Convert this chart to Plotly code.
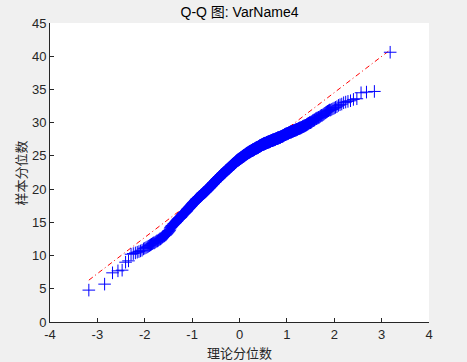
import numpy as np
import plotly.graph_objects as go
from statistics import NormalDist

# Sorted sample values of VarName4 (n = 680)
sample_low = [
    4.8, 5.7, 7.4, 7.7, 7.8, 9.0, 9.2, 10.2, 10.3,
    10.4, 10.5, 10.6, 10.7, 10.8, 11.0,
    11.1, 11.2, 11.3, 11.4, 11.5,
    11.6, 11.7, 11.8, 11.9,
    11.9, 12.0, 12.1, 12.2, 12.2, 12.3,
    12.4, 12.5, 12.5, 12.6, 12.7, 12.8, 12.9,
    12.9, 13.0, 13.1, 13.1, 13.2, 13.3, 13.4, 13.5,
    13.6, 13.7, 13.8, 14.0, 14.2, 14.3, 14.4, 14.5, 14.5, 14.6,
    14.7, 14.8, 14.8, 14.9, 15.0, 15.0, 15.1, 15.2, 15.2, 15.3, 15.4,
    15.5, 15.5, 15.6, 15.6, 15.7, 15.7, 15.8, 15.8, 15.9, 16.0, 16.0, 16.1,
    16.2, 16.2, 16.3, 16.3, 16.4, 16.4, 16.5, 16.5, 16.6, 16.6, 16.7, 16.7, 16.8, 16.9,
    16.9, 17.0, 17.0, 17.1, 17.1, 17.2, 17.2, 17.3, 17.3, 17.4, 17.4, 17.5, 17.5, 17.6, 17.6, 17.7,
    17.7, 17.8, 17.8, 17.9, 17.9, 18.0, 18.0, 18.0, 18.1, 18.1, 18.2, 18.2, 18.3, 18.3, 18.4, 18.4, 18.5,
    18.5, 18.5, 18.6, 18.6, 18.6, 18.7, 18.7, 18.7, 18.8, 18.8, 18.8, 18.9, 18.9, 18.9, 19.0, 19.0, 19.0, 19.1, 19.1,
    19.1, 19.2, 19.2, 19.2, 19.3, 19.3, 19.3, 19.4, 19.4, 19.4, 19.5, 19.5, 19.5, 19.5, 19.6, 19.6, 19.6, 19.7, 19.7, 19.7, 19.8,
    19.8, 19.8, 19.9, 19.9, 19.9, 20.0, 20.0, 20.0, 20.1, 20.1, 20.1, 20.2, 20.2, 20.2, 20.3, 20.3, 20.3, 20.4, 20.4, 20.4, 20.5, 20.5,
    20.5, 20.6, 20.6, 20.6, 20.7, 20.7, 20.7, 20.8, 20.8, 20.8, 20.9, 20.9, 20.9, 21.0, 21.0, 21.0, 21.0, 21.1, 21.1, 21.1, 21.2, 21.2, 21.2,
    21.3, 21.3, 21.3, 21.4, 21.4, 21.4, 21.5, 21.5, 21.5, 21.5, 21.6, 21.6, 21.6, 21.7, 21.7, 21.7, 21.7, 21.8, 21.8, 21.8, 21.9, 21.9, 21.9, 21.9,
    22.0, 22.0, 22.0, 22.1, 22.1, 22.1, 22.1, 22.2, 22.2, 22.2, 22.2, 22.3, 22.3, 22.3, 22.3, 22.4, 22.4, 22.4, 22.4, 22.5, 22.5, 22.5, 22.5, 22.6, 22.6, 22.6,
    22.7, 22.7, 22.7, 22.7, 22.8, 22.8, 22.8, 22.8, 22.9, 22.9, 22.9, 22.9, 23.0, 23.0, 23.0, 23.0, 23.1, 23.1, 23.1, 23.1, 23.2, 23.2, 23.2, 23.2, 23.3, 23.3,
    23.3, 23.3, 23.4, 23.4, 23.4, 23.4, 23.5, 23.5, 23.5, 23.5, 23.6, 23.6, 23.6, 23.6, 23.7, 23.7, 23.7, 23.7, 23.8, 23.8, 23.8, 23.8, 23.8, 23.9, 23.9, 23.9, 23.9,
    24.0, 24.0, 24.0, 24.0, 24.1, 24.1, 24.1, 24.1, 24.2, 24.2, 24.2, 24.2, 24.3, 24.3, 24.3, 24.3, 24.3, 24.4, 24.4, 24.4, 24.4, 24.4, 24.5, 24.5, 24.5, 24.5, 24.5,
]
sample_high = [
    24.5, 24.6, 24.6, 24.6, 24.6, 24.6, 24.7, 24.7, 24.7, 24.7, 24.7, 24.8, 24.8, 24.8, 24.8, 24.8, 24.9, 24.9, 24.9, 24.9, 24.9, 25.0, 25.0, 25.0, 25.0, 25.0, 25.0,
    25.1, 25.1, 25.1, 25.1, 25.1, 25.2, 25.2, 25.2, 25.2, 25.2, 25.3, 25.3, 25.3, 25.3, 25.3, 25.4, 25.4, 25.4, 25.4, 25.4, 25.4, 25.5, 25.5, 25.5, 25.5, 25.5, 25.5,
    25.6, 25.6, 25.6, 25.6, 25.6, 25.6, 25.7, 25.7, 25.7, 25.7, 25.7, 25.7, 25.8, 25.8, 25.8, 25.8, 25.8, 25.8, 25.8, 25.9, 25.9, 25.9, 25.9, 25.9, 25.9, 25.9,
    26.0, 26.0, 26.0, 26.0, 26.0, 26.0, 26.1, 26.1, 26.1, 26.1, 26.1, 26.1, 26.2, 26.2, 26.2, 26.2, 26.2, 26.2, 26.2, 26.3, 26.3, 26.3, 26.3, 26.3, 26.3, 26.3,
    26.4, 26.4, 26.4, 26.4, 26.4, 26.5, 26.5, 26.5, 26.5, 26.5, 26.5, 26.6, 26.6, 26.6, 26.6, 26.6, 26.6, 26.7, 26.7, 26.7, 26.7, 26.7, 26.7, 26.7,
    26.8, 26.8, 26.8, 26.8, 26.8, 26.8, 26.8, 26.9, 26.9, 26.9, 26.9, 26.9, 26.9, 26.9, 26.9, 27.0, 27.0, 27.0, 27.0, 27.0, 27.0, 27.0, 27.0,
    27.1, 27.1, 27.1, 27.1, 27.1, 27.1, 27.1, 27.2, 27.2, 27.2, 27.2, 27.2, 27.2, 27.2, 27.3, 27.3, 27.3, 27.3, 27.3, 27.3, 27.3, 27.3,
    27.4, 27.4, 27.4, 27.4, 27.4, 27.4, 27.4, 27.5, 27.5, 27.5, 27.5, 27.5, 27.5, 27.5, 27.6, 27.6, 27.6, 27.6, 27.6, 27.6, 27.6,
    27.7, 27.7, 27.7, 27.7, 27.7, 27.7, 27.8, 27.8, 27.8, 27.8, 27.8, 27.8, 27.8, 27.9, 27.9, 27.9, 27.9, 27.9, 27.9,
    28.0, 28.0, 28.0, 28.0, 28.1, 28.1, 28.1, 28.1, 28.2, 28.2, 28.2, 28.2, 28.2, 28.3, 28.3, 28.3, 28.3,
    28.3, 28.4, 28.4, 28.4, 28.4, 28.4, 28.5, 28.5, 28.5, 28.5, 28.5, 28.6, 28.6, 28.6, 28.6, 28.6,
    28.7, 28.7, 28.7, 28.7, 28.7, 28.8, 28.8, 28.8, 28.8, 28.8, 28.9, 28.9, 28.9, 28.9,
    29.0, 29.0, 29.0, 29.0, 29.1, 29.1, 29.1, 29.1, 29.2, 29.2, 29.2, 29.2,
    29.3, 29.3, 29.3, 29.4, 29.4, 29.4, 29.5, 29.5, 29.5, 29.6, 29.6,
    29.6, 29.7, 29.7, 29.8, 29.8, 29.9, 29.9, 30.0, 30.0, 30.0,
    30.1, 30.1, 30.2, 30.3, 30.3, 30.4, 30.4, 30.5,
    30.6, 30.6, 30.7, 30.7, 30.8, 30.8, 30.9,
    31.0, 31.1, 31.1, 31.2, 31.3, 31.4,
    31.5, 31.6, 31.7, 31.8,
    31.9, 31.9, 32.0, 32.1, 32.2,
    32.3, 32.4, 32.6,
    32.7, 32.8, 33.0,
    33.1, 33.2,
    33.3,
    33.5, 33.6,
    34.5, 34.6, 34.7, 40.6,
]
x_ticks = [-4, -3, -2, -1, 0, 1, 2, 3, 4]
y_ticks = [0, 5, 10, 15, 20, 25, 30, 35, 40, 45]
title_text = "Q-Q 图: VarName4"
x_label = "理论分位数"
y_label = "样本分位数"

# Q-Q computation (as MATLAB qqplot does)
y = np.sort(np.array(sample_low + sample_high))
n = len(y)
nd = NormalDist()
x = np.array([nd.inv_cdf((i - 0.5) / n) for i in range(1, n + 1)])
q1, q3 = np.percentile(y, [25, 75], method="hazen")
z1, z3 = nd.inv_cdf(0.25), nd.inv_cdf(0.75)
slope = (q3 - q1) / (z3 - z1)
cept = q1 - slope * z1
line_x = np.array([x.min(), x.max()])
line_y = cept + slope * line_x

fig = go.Figure()
fig.add_trace(go.Scatter(
    x=line_x, y=line_y, mode="lines",
    line=dict(color="rgb(255,0,0)", width=1, dash="5px,3px,1px,3px"),
    hoverinfo="skip", showlegend=False))
fig.add_trace(go.Scatter(
    x=x, y=y, mode="markers",
    marker=dict(symbol="cross-thin-open", size=9, color="rgb(0,0,255)",
                line=dict(color="rgb(0,0,255)", width=1)),
    showlegend=False))

axis_common = dict(showline=True, linecolor="#262626", linewidth=1, mirror=False,
                   ticks="inside", ticklen=4, tickcolor="#262626", tickwidth=1,
                   showgrid=False, zeroline=False, automargin=False,
                   tickfont=dict(family="Liberation Sans, Arial", size=13, color="#262626"))

fig.update_layout(
    width=467, height=362,
    paper_bgcolor="#f0f0f0", plot_bgcolor="#ffffff",
    margin=dict(l=50, r=38, t=23, b=40),
    title=dict(text=title_text, x=0.5, xanchor="center", xref="paper",
               y=1 - 12 / 362, yanchor="middle",
               font=dict(family="Liberation Sans, Arial, Noto Sans CJK SC", size=14, color="#000000")),
    xaxis=dict(range=[-4, 4], tickvals=x_ticks, ticktext=[str(v) for v in x_ticks], **axis_common),
    yaxis=dict(range=[0, 45], tickvals=y_ticks, ticktext=[str(v) for v in y_ticks], **axis_common),
    annotations=[
        dict(text=x_label, xref="paper", yref="paper", x=0.5, y=-30 / 299,
             xanchor="center", yanchor="middle", showarrow=False,
             font=dict(family="Noto Sans CJK SC", size=13, color="#262626")),
        dict(text=y_label, xref="paper", yref="paper", x=-30 / 379, y=0.5,
             xanchor="center", yanchor="middle", showarrow=False, textangle=-90,
             font=dict(family="Noto Sans CJK SC", size=13, color="#262626")),
    ],
)

fig.write_html("out.html", config={"displayModeBar": False},
               post_script="document.body.style.margin='0';document.body.style.background='#f0f0f0';")
